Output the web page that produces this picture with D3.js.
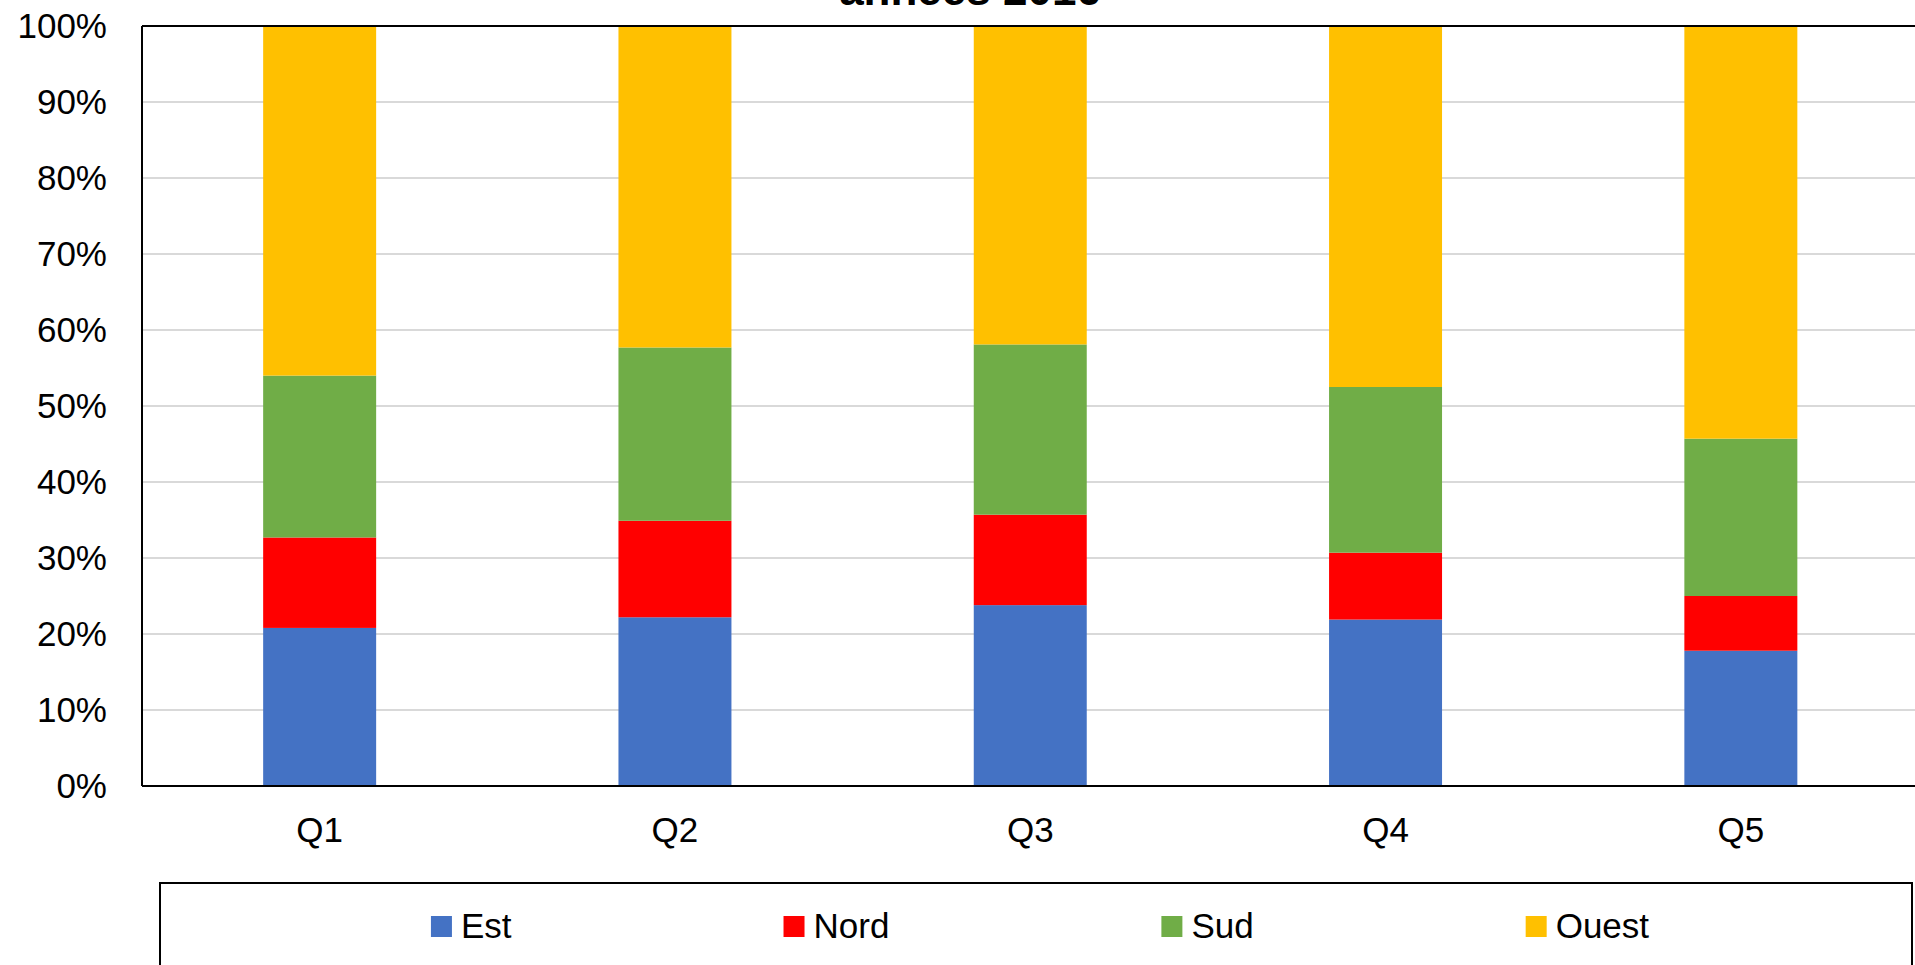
<!DOCTYPE html>
<html>
<head>
<meta charset="utf-8">
<script src="https://cdn.jsdelivr.net/npm/d3@7"></script>
<style>
html, body { margin: 0; padding: 0; background: #fff; overflow: hidden; }
svg { display: block; font-family: "Liberation Sans", Arial, sans-serif; }
</style>
</head>
<body>
<script>
const categories = ["Q1", "Q2", "Q3", "Q4", "Q5"];
const seriesNames = ["Est", "Nord", "Sud", "Ouest"];
const est   = [20.8, 22.2, 23.8, 21.9, 17.8];
const nord  = [11.9, 12.7, 11.9, 8.8, 7.2];
const sud   = [21.3, 22.8, 22.4, 21.8, 20.7];
const ouest = [46.0, 42.3, 41.9, 47.5, 54.3];
const colors = ["#4472C4", "#FF0000", "#70AD47", "#FFC000"];
const yTicks = [0, 10, 20, 30, 40, 50, 60, 70, 80, 90, 100];
const titleText = "années 2016";

const W = 1915, H = 965;
const m = { left: 142, top: 26, right: 1918.5, bottom: 786 };

const svg = d3.select("body").append("svg").attr("width", W).attr("height", H);

const rows = categories.map((c, i) => ({ cat: c, Est: est[i], Nord: nord[i], Sud: sud[i], Ouest: ouest[i] }));
const stacked = d3.stack().keys(seriesNames).offset(d3.stackOffsetExpand)(rows);

const x = d3.scaleBand().domain(categories).range([m.left, m.right])
  .paddingInner(0.682).paddingOuter(0.341);
const y = d3.scaleLinear().domain([0, 1]).range([m.bottom, m.top]);

// gridlines
svg.append("g").selectAll("line").data(yTicks.filter(t => t > 0 && t < 100)).join("line")
  .attr("x1", m.left).attr("x2", m.right)
  .attr("y1", d => y(d / 100)).attr("y2", d => y(d / 100))
  .attr("stroke", "#d9d9d9").attr("stroke-width", 2);

// bars
svg.append("g").selectAll("g").data(stacked).join("g")
  .attr("fill", (d, i) => colors[i])
  .selectAll("rect").data(d => d).join("rect")
  .attr("x", d => x(d.data.cat))
  .attr("width", x.bandwidth())
  .attr("y", d => y(d[1]))
  .attr("height", d => y(d[0]) - y(d[1]));

// plot frame
svg.append("line").attr("x1", m.left).attr("x2", m.right).attr("y1", m.top).attr("y2", m.top)
  .attr("stroke", "#000").attr("stroke-width", 2);
svg.append("line").attr("x1", m.left).attr("x2", m.left).attr("y1", m.top).attr("y2", m.bottom)
  .attr("stroke", "#000").attr("stroke-width", 2);
svg.append("line").attr("x1", m.left).attr("x2", m.right).attr("y1", m.bottom).attr("y2", m.bottom)
  .attr("stroke", "#000").attr("stroke-width", 2);

// y axis labels
const yAxis = d3.axisLeft(y).tickValues(yTicks.map(t => t / 100)).tickFormat(d => Math.round(d * 100) + "%").tickSize(0).tickPadding(35);
const gy = svg.append("g").attr("transform", `translate(${m.left},0)`).call(yAxis);
gy.select(".domain").remove();
gy.selectAll("text").attr("font-size", 35).attr("fill", "#000").attr("font-family", "'Liberation Sans', Arial, sans-serif");

// x axis labels
const xAxis = d3.axisBottom(x).tickSize(0).tickPadding(0);
const gx = svg.append("g").attr("transform", `translate(0,${m.bottom})`).call(xAxis);
gx.select(".domain").remove();
gx.selectAll("text").attr("font-size", 35).attr("fill", "#000").attr("dy", null).attr("y", 56)
  .attr("font-family", "'Liberation Sans', Arial, sans-serif");

// title (partially cut, as in the reference)
svg.append("text").attr("x", 970).attr("y", 5).attr("text-anchor", "middle")
  .attr("font-size", 44).attr("font-weight", "bold").attr("fill", "#000").text(titleText);

// legend
const lg = { x: 160, y: 883, w: 1752, h: 120 };
svg.append("rect").attr("x", lg.x).attr("y", lg.y).attr("width", lg.w).attr("height", lg.h)
  .attr("fill", "#fff").attr("stroke", "#000").attr("stroke-width", 2);
const legend = svg.append("g");
const items = legend.selectAll("g").data(seriesNames).join("g");
items.append("rect").attr("width", 21).attr("height", 21).attr("y", 916).attr("fill", (d, i) => colors[i]);
items.append("text").attr("x", 30).attr("y", 938).attr("font-size", 35).attr("fill", "#000").text(d => d);
const widths = [];
items.each(function () { widths.push(30 + d3.select(this).select("text").node().getComputedTextLength()); });
const gap = 272;
const total = d3.sum(widths) + gap * (widths.length - 1);
let cx = lg.x + lg.w / 2 - total / 2 + 4;
items.each(function (d, i) { d3.select(this).attr("transform", `translate(${cx},0)`); cx += widths[i] + gap; });
</script>
</body>
</html>
